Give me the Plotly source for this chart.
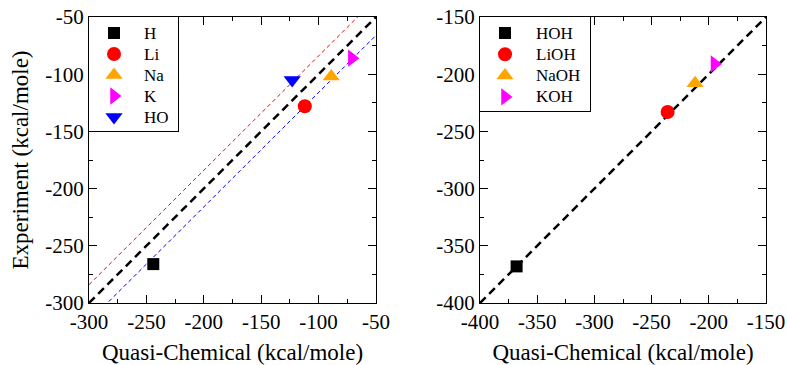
import plotly.graph_objects as go

# Left panel data
left_names = ["H", "Li", "Na", "K", "HO"]
left_qc = [-244, -112, -89, -71, -123]
left_exp = [-266, -128, -102, -86, -105]

# Right panel data
right_names = ["HOH", "LiOH", "NaOH", "KOH"]
right_qc = [-368, -236, -212, -195]
right_exp = [-368, -233, -208, -191]

symbols = ["square", "circle", "triangle-up", "triangle-right", "triangle-down"]
colors = ["black", "#ff0000", "#ffa500", "#ff00ff", "#0000ff"]
sizes = [12, 14, 15, 15, 15]

left_range = [-300, -50]
right_range = [-400, -150]
left_ticks = [-300, -250, -200, -150, -100, -50]
left_ticktext = ["-300", "-250", "-200", "-150", "-100", "-50"]
right_ticks = [-400, -350, -300, -250, -200, -150]
right_ticktext = ["-400", "-350", "-300", "-250", "-200", "-150"]
band_offset = 16

W, H = 787, 365
font = "Liberation Serif, Times New Roman, serif"
fig = go.Figure()

def line(xr, off, color, width, dash, xa, ya):
    fig.add_trace(go.Scatter(x=xr, y=[v + off for v in xr], mode="lines",
                             line=dict(color=color, width=width, dash=dash),
                             showlegend=False, xaxis=xa, yaxis=ya, hoverinfo="skip"))

line(left_range, band_offset, "#ff0000", 1, "4px,3px", "x", "y")
line(left_range, -band_offset, "#0000ff", 1, "4px,3px", "x", "y")
line(left_range, 0, "black", 2.5, "8px,5px", "x", "y")
line(right_range, 0, "black", 2.5, "8px,5px", "x2", "y2")

for i, n in enumerate(left_names):
    fig.add_trace(go.Scatter(x=[left_qc[i]], y=[left_exp[i]], mode="markers", name=n,
                             marker=dict(symbol=symbols[i], color=colors[i], size=sizes[i]),
                             xaxis="x", yaxis="y", showlegend=False, cliponaxis=False))
for i, n in enumerate(right_names):
    fig.add_trace(go.Scatter(x=[right_qc[i]], y=[right_exp[i]], mode="markers", name=n,
                             marker=dict(symbol=symbols[i], color=colors[i], size=sizes[i]),
                             xaxis="x2", yaxis="y2", showlegend=False, cliponaxis=False))

# Hand-drawn legends (pixel-unit overlay axes) so font size and row spacing match
def add_legend(names, xa, ya, box_w, box_h, row0, step, mx, tx):
    for i, n in enumerate(names):
        yy = row0 + i * step
        fig.add_trace(go.Scatter(x=[mx], y=[yy], mode="markers",
                                 marker=dict(symbol=symbols[i], color=colors[i], size=sizes[i]),
                                 xaxis=xa, yaxis=ya, showlegend=False, hoverinfo="skip",
                                 cliponaxis=False))
        fig.add_annotation(x=tx, y=yy, xref=xa, yref=ya, text=n, showarrow=False,
                           xanchor="left", yanchor="middle",
                           font=dict(family=font, size=17, color="black"))

add_legend(left_names, "x3", "y3", 89, 114, 16, 21, 25, 53)
add_legend(right_names, "x4", "y4", 110, 94, 16, 21.3, 25, 54)

y0, y1 = 1 - 303 / H, 1 - 17 / H

def ax(domain, rng, tv, tt, title=None, anchor=None, standoff=14):
    d = dict(domain=domain, range=rng, tickvals=tv, ticktext=tt, ticks="inside", ticklen=8,
             tickwidth=1, tickcolor="black", mirror="ticks", showline=True, linecolor="black",
             linewidth=1.2, showgrid=False, zeroline=False, automargin=False,
             tickfont=dict(family=font, size=21, color="black"),
             minor=dict(ticks="inside", ticklen=4, dtick=25, tickcolor="black", showgrid=False),
             anchor=anchor, fixedrange=True)
    if title:
        d["title"] = dict(text=title, font=dict(family=font, size=23, color="black"), standoff=standoff)
    return d

def legax(domain, rng, anchor):
    return dict(domain=domain, range=rng, anchor=anchor, showline=True, mirror=True,
                linecolor="black", linewidth=1.2, showgrid=False, zeroline=False,
                showticklabels=False, ticks="", automargin=False, fixedrange=True)

fig.update_layout(
    width=W, height=H, margin=dict(l=0, r=0, t=0, b=0),
    paper_bgcolor="white", plot_bgcolor="white", showlegend=False,
    xaxis=ax([89 / W, 376 / W], left_range, left_ticks, left_ticktext, "Quasi-Chemical (kcal/mole)", "y"),
    yaxis=ax([y0, y1], left_range, left_ticks, left_ticktext, "Experiment (kcal/mole)", "x", 10),
    xaxis2=ax([480 / W, 766 / W], right_range, right_ticks, right_ticktext, "Quasi-Chemical (kcal/mole)", "y2"),
    yaxis2=ax([y0, y1], right_range, right_ticks, right_ticktext, None, "x2"),
    xaxis3=legax([89 / W, 178 / W], [0, 89], "y3"),
    yaxis3=legax([1 - 131 / H, y1], [114, 0], "x3"),
    xaxis4=legax([480 / W, 590 / W], [0, 110], "y4"),
    yaxis4=legax([1 - 111 / H, y1], [94, 0], "x4"),
)

fig.write_html("out.html", config={"displayModeBar": False},
               post_script="document.body.style.margin='0';document.body.style.overflow='hidden';")
